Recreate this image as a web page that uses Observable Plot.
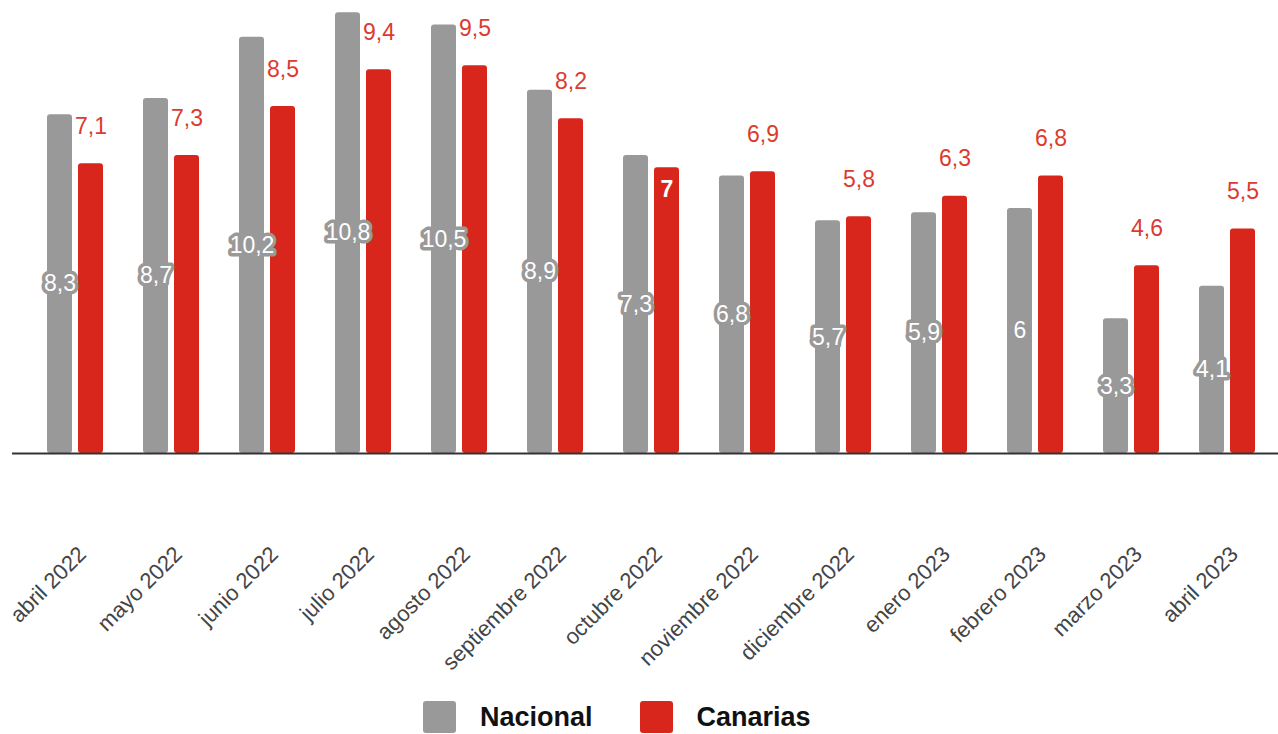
<!DOCTYPE html>
<html>
<head>
<meta charset="utf-8">
<script src="https://cdn.jsdelivr.net/npm/d3@7"></script>
<script src="https://cdn.jsdelivr.net/npm/@observablehq/plot@0.6"></script>
<style>
  html, body { margin: 0; padding: 0; background: #fff; }
  body { width: 1278px; height: 734px; position: relative; overflow: hidden; font-family: "Liberation Sans", Arial, sans-serif; }
  #chart { position: absolute; left: 0; top: 0; }
  #legend { position: absolute; top: 701px; left: 423px; display: flex; align-items: center; }
  .sw { width: 33px; height: 32px; border-radius: 3px; }
  .lab { font-weight: bold; font-size: 27px; color: #111; margin-left: 24px; margin-right: 47px; }
</style>
</head>
<body>
<div id="chart"></div>
<div id="legend"></div>
<script>
const months = ["abril 2022","mayo 2022","junio 2022","julio 2022","agosto 2022","septiembre 2022","octubre 2022","noviembre 2022","diciembre 2022","enero 2023","febrero 2023","marzo 2023","abril 2023"];
const nacional = [8.3, 8.7, 10.2, 10.8, 10.5, 8.9, 7.3, 6.8, 5.7, 5.9, 6, 3.3, 4.1];
const canarias = [7.1, 7.3, 8.5, 9.4, 9.5, 8.2, 7, 6.9, 5.8, 6.3, 6.8, 4.6, 5.5];
const seriesNames = ["Nacional", "Canarias"];

const GRAY = "#999999";
const RED = "#d9261c";
const RED_TEXT = "#dc3b30";
const fmt = v => String(v).replace(".", ",");

const data = months.map((m, i) => ({month: m, nac: nacional[i], can: canarias[i]}));
const inside = d => d.month === "octubre 2022";        // label drawn inside the red bar
const noHalo = d => d.month === "febrero 2023";        // label drawn without halo

const font = "Liberation Sans, Arial, sans-serif";

const chart = Plot.plot({
  width: 1278,
  height: 695,
  marginLeft: 12,
  marginRight: 0,
  marginTop: 4,
  marginBottom: 242,
  style: {fontFamily: font, background: "#fff"},
  x: {domain: months, paddingInner: 0.417, paddingOuter: 0.302, align: 0.603, label: null},
  y: {domain: [0, 11], axis: null},
  marks: [
    Plot.barY(data, {x: "month", y: "nac", fill: GRAY, insetRight: 31, rx: 3}),
    Plot.barY(data, {x: "month", y: "can", fill: RED, insetLeft: 31, rx: 3}),
    Plot.ruleY([0], {stroke: "#333", strokeWidth: 2}),
    Plot.axisX({tickSize: 0, tickRotate: -45, tickPadding: 97, dx: 7, fontSize: 22, fill: "#444", label: null}),
    // Nacional labels: white with gray halo, centred on bar
    Plot.text(data.filter(d => !noHalo(d)), {x: "month", y: d => d.nac / 2, text: d => fmt(d.nac), dx: -15.5,
      fill: "white", stroke: GRAY, strokeWidth: 7, strokeLinejoin: "round", fontSize: 23, lineAnchor: "middle"}),
    Plot.text(data.filter(noHalo), {x: "month", y: d => d.nac / 2, text: d => fmt(d.nac), dx: -15.5,
      fill: "white", fontSize: 23, lineAnchor: "middle"}),
    // Canarias labels: red with white halo above bar
    Plot.text(data.filter(d => !inside(d)), {x: "month", y: "can", text: d => fmt(d.can), dx: 15.5, dy: -30,
      fill: RED_TEXT, stroke: "white", strokeWidth: 5, strokeLinejoin: "round", fontSize: 23, lineAnchor: "bottom"}),
    Plot.text(data.filter(inside), {x: "month", y: "can", text: d => fmt(d.can), dx: 15.5, dy: 29,
      fill: "white", fontWeight: "bold", fontSize: 23, lineAnchor: "bottom"})
  ]
});
document.getElementById("chart").appendChild(chart);

const legend = document.getElementById("legend");
[GRAY, RED].forEach((c, i) => {
  const sw = document.createElement("div");
  sw.className = "sw";
  sw.style.background = c;
  const lab = document.createElement("div");
  lab.className = "lab";
  lab.textContent = seriesNames[i];
  legend.appendChild(sw);
  legend.appendChild(lab);
});
</script>
</body>
</html>
